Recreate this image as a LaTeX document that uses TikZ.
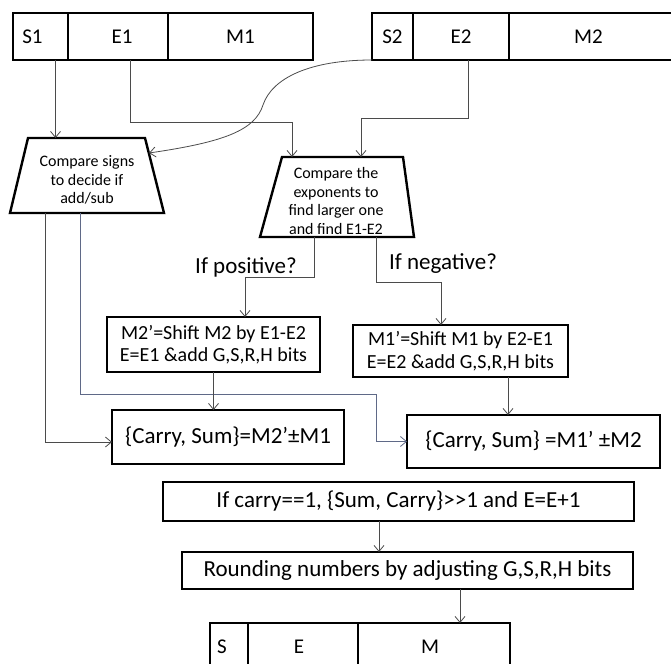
\documentclass[tikz,border=0pt]{standalone}
\usepackage{fontspec}
\setmainfont{Carlito}
\usetikzlibrary{arrows.meta}
\definecolor{wiregray}{RGB}{75,75,75}
\definecolor{wireblue}{RGB}{95,105,135}
\tikzstyle{field} = [rectangle, draw, line width=2.2pt, minimum height=47pt,
    inner sep=0pt, font=\fontsize{21}{24}\selectfont]
\tikzstyle{block} = [rectangle, draw, line width=2.4pt, inner sep=0pt,
    align=center, font=\fontsize{23}{26}\selectfont]
\tikzstyle{decide} = [draw, line width=2.4pt, line join=miter]
\tikzstyle{note} = [inner sep=0pt, align=center, font=\fontsize{16}{18.5}\selectfont]
\tikzstyle{case} = [font=\fontsize{23}{26}\selectfont]
\tikzstyle{line} = [draw, color=wiregray, line width=0.8pt, -{Straight Barb[length=6pt,width=10pt]}]

\begin{document}
\begin{tikzpicture}[x=1pt, y=-1pt, outer sep=0pt]

	\useasboundingbox (0,0) rectangle (671,663);
	\clip (0,0) rectangle (671,663);

	\node [field, minimum width=55pt, anchor=north west] (s1) at (13,13) {\hspace*{-16pt}S1};
	\node [field, minimum width=100pt, anchor=north west] (e1) at (s1.north east) {\hspace*{8pt}E1};
	\node [field, minimum width=145pt, anchor=north west] (m1) at (e1.north east) {M1};

	\node [field, minimum width=41pt, anchor=north west] (s2) at (372,13) {S2};
	\node [field, minimum width=96pt, anchor=north west] (e2) at (s2.north east) {E2};
	\node [field, minimum width=175pt, anchor=north west] (m2) at (e2.north east) {\hspace*{-16pt}M2};

	\node [note] (sign) at (87,180) {Compare signs\\to decide if\\add/sub};
	\draw [decide] (87,175.5) ++(-59,-37.5) coordinate (signtl) -- ++(117,0) coordinate (signtr)
		-- ++(19,75) coordinate (signbr) -- ++(-154,0) coordinate (signbl) -- cycle;

	\node [note] (exp) at (336,201) {Compare the\\exponents to\\find larger one\\and find E1-E2};
	\draw [decide] (337,197) ++(-55,-40) coordinate (exptl) -- ++(121,0) coordinate (exptr)
		-- ++(11,80) coordinate (expbr) -- ++(-154,0) coordinate (expbl) -- cycle;

	\node [case] (pos) at (246,267) {If positive?};
	\node [case] (neg) at (443,264) {If negative?};

	\node [block, minimum width=213pt, minimum height=55pt, font=\fontsize{20}{22.5}\selectfont] (shiftA) at (213.5,344.5) {M2’=Shift M2 by E1-E2\\E=E1 \&add G,S,R,H bits};
	\node [block, minimum width=215pt, minimum height=52pt, font=\fontsize{20}{22.5}\selectfont] (shiftB) at (460.5,351) {M1’=Shift M1 by E2-E1\\E=E2 \&add G,S,R,H bits};
	\node [block, minimum width=232pt, minimum height=54pt] (sumA) at (228,437) {\{Carry, Sum\}=M2’±M1};
	\node [block, minimum width=253pt, minimum height=53pt] (sumB) at (533.5,441.5) {\{Carry, Sum\} =M1’ ±M2};
	\node [block, minimum width=471pt, minimum height=39pt] (carry) at (398.5,501.5) {If carry==1, \{Sum, Carry\}>{}>1 and E=E+1};
	\node [block, minimum width=451pt, minimum height=37pt] (round) at (407.5,570.5) {Rounding numbers by adjusting G,S,R,H bits};

	\node [field, minimum width=38pt, anchor=north west] (s) at (210,623) {\hspace*{-14pt}S};
	\node [field, minimum width=110pt, anchor=north west] (e) at (s.north east) {\hspace*{-8pt}E};
	\node [field, minimum width=152pt, anchor=north west] (m) at (e.north east) {\hspace*{-8pt}M};

	\coordinate (s1out) at ([xshift=15pt]s1.south);
	\coordinate (e1out) at ([xshift=12pt]e1.south);
	\coordinate (e2out) at ([xshift=7pt]e2.south);
	\coordinate (expin1) at ([xshift=10pt]exptl);
	\coordinate (expin2) at ([xshift=-42pt]exptr);

	\path [line] (s1out) -- (s1out |- signtl);
	\path [line] (e1out) -- ++(0,62) -| (expin1);
	\path [line] (e2out) -- ++(0,58) -| (expin2);
	\path [line] (s2.south west) .. controls (310,60) and (272,78) .. (263,105)
		.. controls (255,130) and (225,142) .. ([shift={(4,15)}]signtr);

	\coordinate (posout) at ([xshift=54pt]expbl);
	\coordinate (negout) at ([xshift=116pt]expbl);
	\path [line] (posout) -- ++(0,40) -| ([xshift=31.5pt]shiftA.north);
	\path [line] (negout) -- ++(0,45) -| ([xshift=-19.5pt]shiftB.north);

	\coordinate (addout) at ([xshift=35pt]signbl);
	\coordinate (subout) at ([xshift=70pt]signbl);
	\path [line] (addout) |- ([yshift=-5pt]sumA.west);
	\path [line, color=wireblue] (subout) -- ++(0,181) -- ++(296,0) |- (sumB.west);

	\path [line] (shiftA.south) -- (shiftA.south |- sumA.north);
	\coordinate (shiftBout) at ([xshift=47.5pt]shiftB.south);
	\path [line] (shiftBout) -- (shiftBout |- sumB.north);
	\coordinate (carryout) at ([xshift=-19.5pt]carry.south);
	\path [line] (carryout) -- (carryout |- round.north);
	\coordinate (roundout) at ([xshift=52.5pt]round.south);
	\path [line] (roundout) -- (roundout |- m.north);
\end{tikzpicture}
\end{document}
